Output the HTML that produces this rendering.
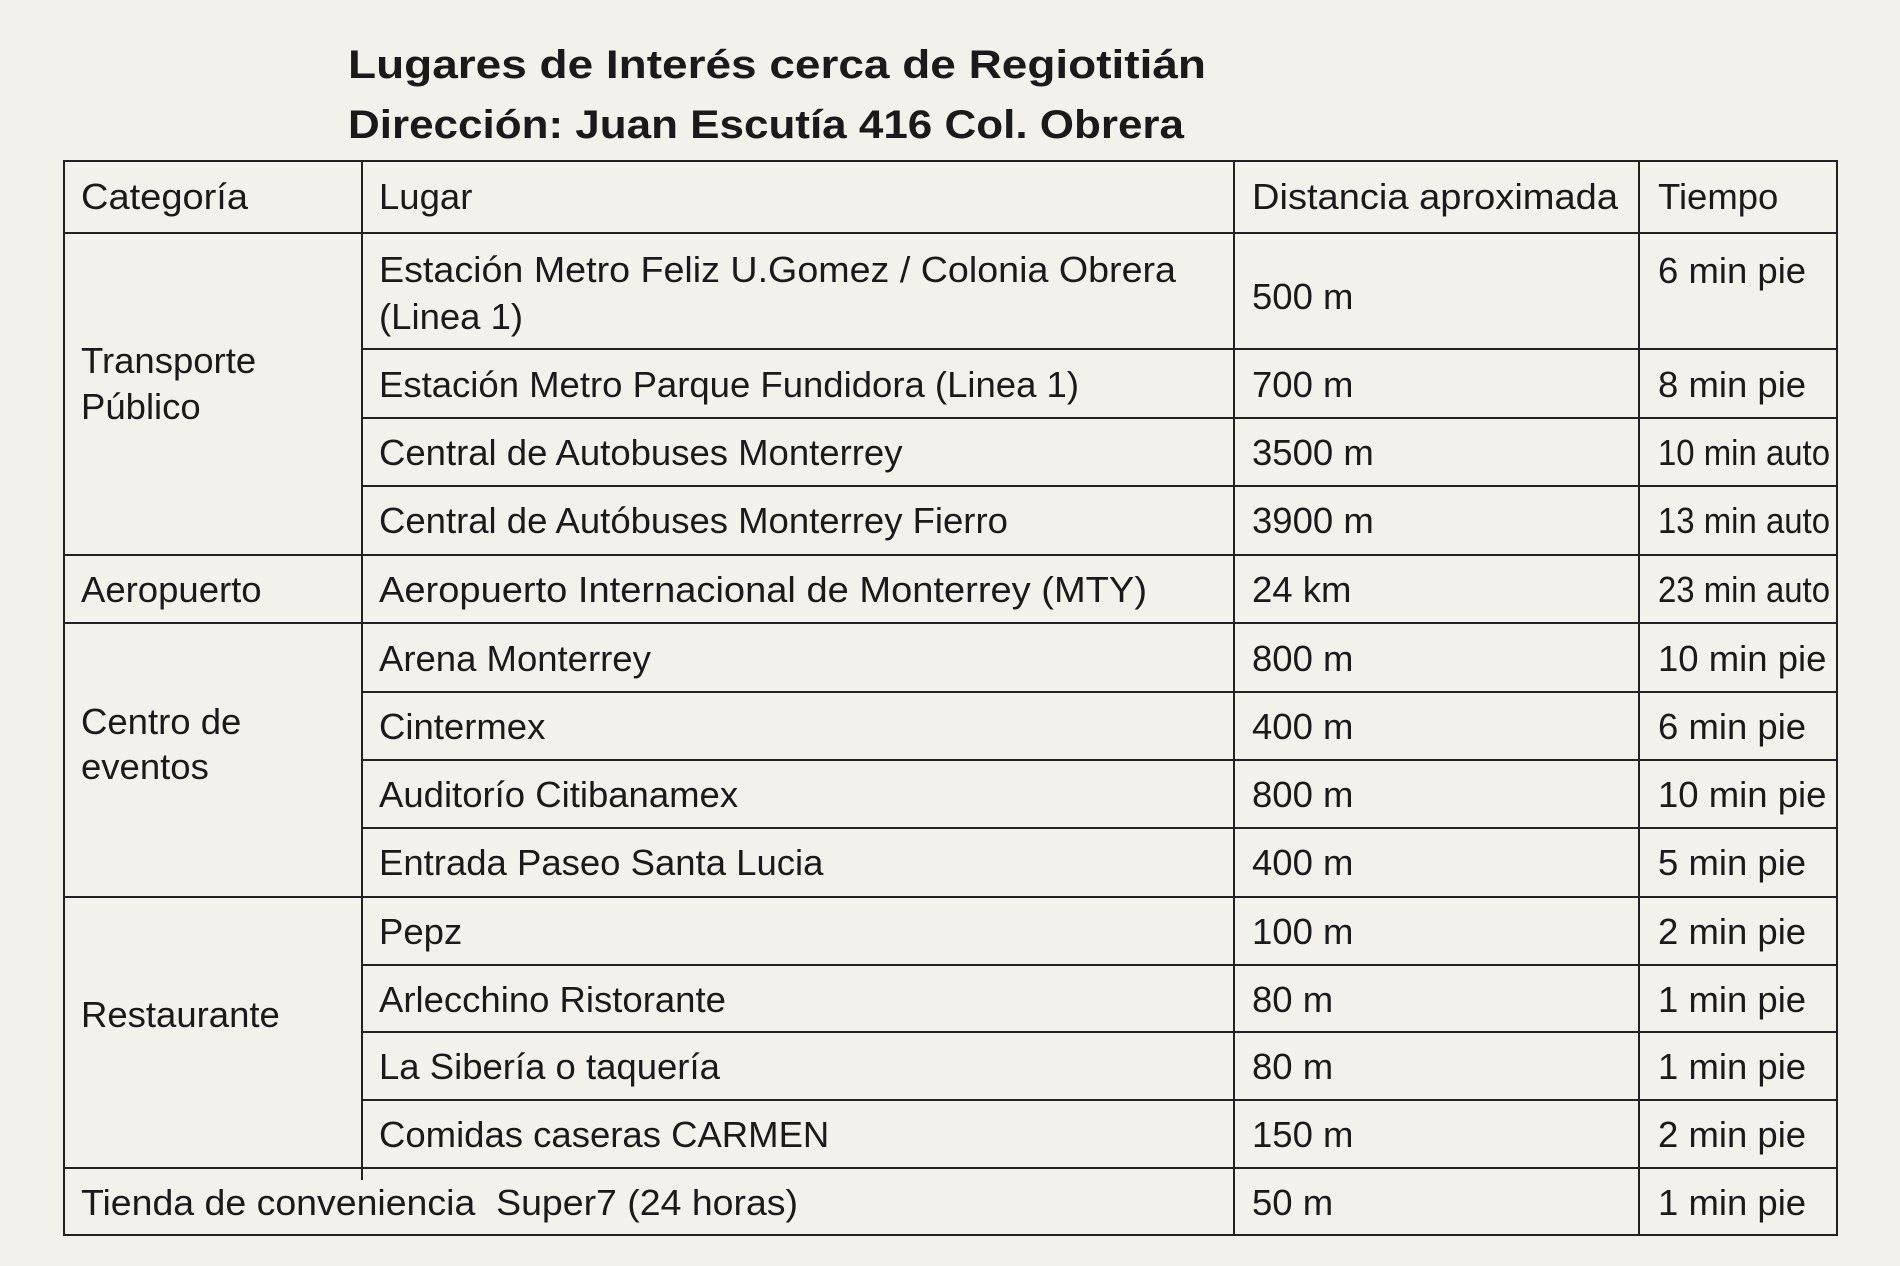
<!DOCTYPE html>
<html><head><meta charset="utf-8"><style>
html,body{margin:0;padding:0;background:#f3f1ec;}
svg{display:block;}
text{font-family:"Liberation Sans",sans-serif;fill:#1a1a1a;font-size:36.5px;}
.t{font-size:40px;font-weight:bold;}
</style></head><body>
<svg width="1900" height="1266" viewBox="0 0 1900 1266" xmlns="http://www.w3.org/2000/svg">
<rect width="1900" height="1266" fill="#f3f1ec"/>
<text class="t" x="348" y="78" textLength="858" lengthAdjust="spacingAndGlyphs">Lugares de Interés cerca de Regiotitián</text>
<text class="t" x="348" y="138" textLength="836" lengthAdjust="spacingAndGlyphs">Dirección: Juan Escutía 416 Col. Obrera</text>
<g stroke="#222" stroke-width="2" fill="none">
<rect x="64" y="161" width="1773" height="1074"/>
<line x1="362" y1="161" x2="362" y2="1168"/>
<line x1="362" y1="1168" x2="362" y2="1180"/>
<line x1="1234" y1="161" x2="1234" y2="1235"/>
<line x1="1639" y1="161" x2="1639" y2="1235"/>
<line x1="64" y1="233" x2="1837" y2="233"/>
<line x1="362" y1="349" x2="1837" y2="349"/>
<line x1="362" y1="418" x2="1837" y2="418"/>
<line x1="362" y1="486" x2="1837" y2="486"/>
<line x1="64" y1="555" x2="1837" y2="555"/>
<line x1="64" y1="623" x2="1837" y2="623"/>
<line x1="362" y1="692" x2="1837" y2="692"/>
<line x1="362" y1="760" x2="1837" y2="760"/>
<line x1="362" y1="828" x2="1837" y2="828"/>
<line x1="64" y1="897" x2="1837" y2="897"/>
<line x1="362" y1="965" x2="1837" y2="965"/>
<line x1="362" y1="1032" x2="1837" y2="1032"/>
<line x1="362" y1="1100" x2="1837" y2="1100"/>
<line x1="64" y1="1168" x2="1837" y2="1168"/>
</g>
<text x="81" y="209" textLength="167" lengthAdjust="spacingAndGlyphs">Categoría</text>
<text x="379" y="209">Lugar</text>
<text x="1252" y="209" textLength="366" lengthAdjust="spacingAndGlyphs">Distancia aproximada</text>
<text x="1658" y="209">Tiempo</text>

<text x="81" y="373">Transporte</text>
<text x="81" y="419">Público</text>
<text x="81" y="602">Aeropuerto</text>
<text x="81" y="734">Centro de</text>
<text x="81" y="779">eventos</text>
<text x="81" y="1027">Restaurante</text>

<text x="379" y="282" textLength="797" lengthAdjust="spacingAndGlyphs">Estación Metro Feliz U.Gomez / Colonia Obrera</text>
<text x="379" y="329">(Linea 1)</text>
<text x="379" y="397">Estación Metro Parque Fundidora (Linea 1)</text>
<text x="379" y="465">Central de Autobuses Monterrey</text>
<text x="379" y="533">Central de Autóbuses Monterrey Fierro</text>
<text x="379" y="602" textLength="768" lengthAdjust="spacingAndGlyphs">Aeropuerto Internacional de Monterrey (MTY)</text>
<text x="379" y="671">Arena Monterrey</text>
<text x="379" y="739">Cintermex</text>
<text x="379" y="807">Auditorío Citibanamex</text>
<text x="379" y="875">Entrada Paseo Santa Lucia</text>
<text x="379" y="944">Pepz</text>
<text x="379" y="1012">Arlecchino Ristorante</text>
<text x="379" y="1079">La Sibería o taquería</text>
<text x="379" y="1147">Comidas caseras CARMEN</text>
<text x="81" y="1215" textLength="717" lengthAdjust="spacingAndGlyphs" xml:space="preserve">Tienda de conveniencia  Super7 (24 horas)</text>

<text x="1252" y="309">500 m</text>
<text x="1252" y="397">700 m</text>
<text x="1252" y="465">3500 m</text>
<text x="1252" y="533">3900 m</text>
<text x="1252" y="602">24 km</text>
<text x="1252" y="671">800 m</text>
<text x="1252" y="739">400 m</text>
<text x="1252" y="807">800 m</text>
<text x="1252" y="875">400 m</text>
<text x="1252" y="944">100 m</text>
<text x="1252" y="1012">80 m</text>
<text x="1252" y="1079">80 m</text>
<text x="1252" y="1147">150 m</text>
<text x="1252" y="1215">50 m</text>

<text x="1658" y="283">6 min pie</text>
<text x="1658" y="397">8 min pie</text>
<text x="1658" y="465" textLength="172" lengthAdjust="spacingAndGlyphs">10 min auto</text>
<text x="1658" y="533" textLength="172" lengthAdjust="spacingAndGlyphs">13 min auto</text>
<text x="1658" y="602" textLength="172" lengthAdjust="spacingAndGlyphs">23 min auto</text>
<text x="1658" y="671">10 min pie</text>
<text x="1658" y="739">6 min pie</text>
<text x="1658" y="807">10 min pie</text>
<text x="1658" y="875">5 min pie</text>
<text x="1658" y="944">2 min pie</text>
<text x="1658" y="1012">1 min pie</text>
<text x="1658" y="1079">1 min pie</text>
<text x="1658" y="1147">2 min pie</text>
<text x="1658" y="1215">1 min pie</text>
</svg>
</body></html>
